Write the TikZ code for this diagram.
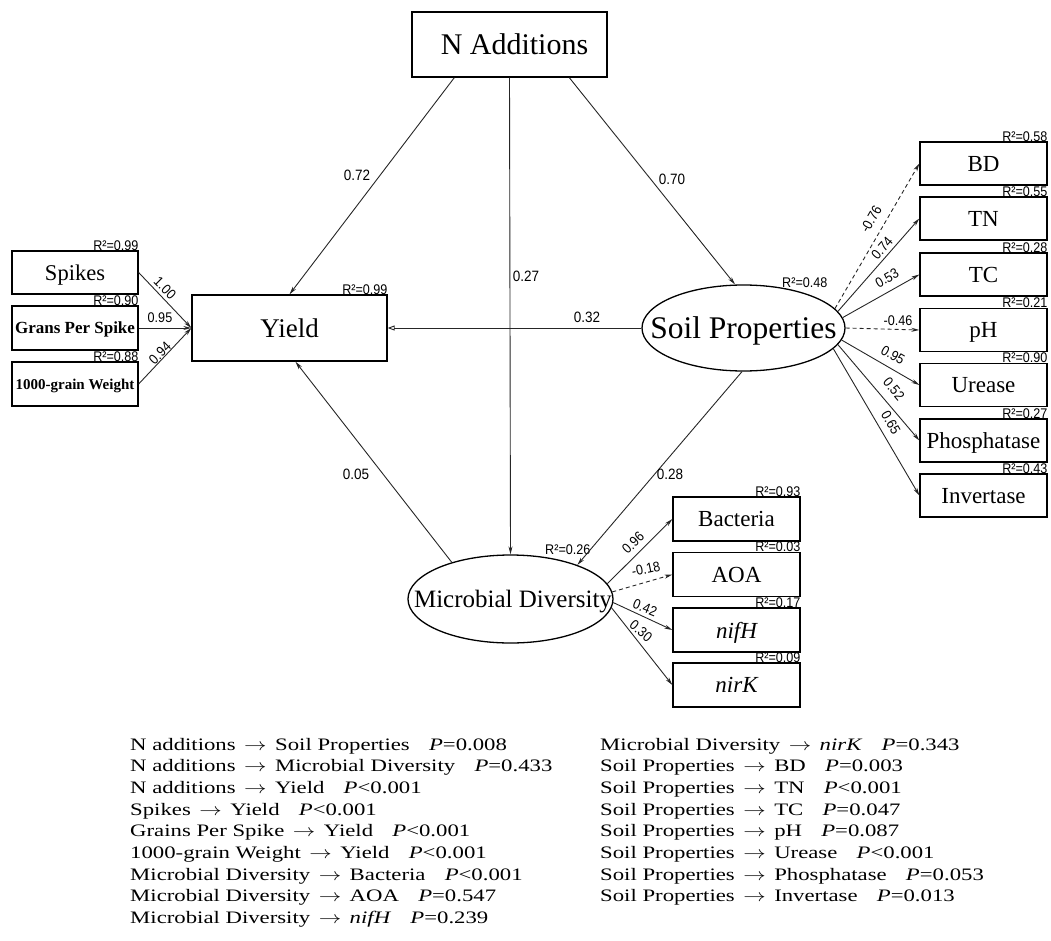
\documentclass[tikz,border=0pt]{standalone}
\usepackage{fontspec}
\setmainfont{Liberation Serif}
\newfontfamily\lblfont[FakeStretch=0.9]{Liberation Sans}
\newfontfamily\captfont[FakeStretch=1.3]{Liberation Serif}
\newcommand{\myarr}{\hspace{8.5pt}\scalebox{1.3}[1]{$\rightarrow$}\hspace{8.5pt}}
\newcommand{\pgap}{\hspace{1.1em}}
\usetikzlibrary{arrows.meta,shapes.geometric}
\begin{document}
\begin{tikzpicture}[x=1pt,y=-1pt,
  box/.style={draw, line width=1.3pt, inner sep=0pt, text depth=0pt},
  ell/.style={draw, ellipse, line width=1.3pt, inner sep=0pt, text depth=0pt},
  rbox/.style={box, minimum width=127pt, minimum height=43pt, font=\fontsize{23}{23}\selectfont},
  mbox/.style={box, minimum width=127pt, minimum height=44pt, font=\fontsize{23}{23}\selectfont},
  lbox/.style={box, minimum width=126pt, minimum height=44pt},
  rsq/.style={font=\lblfont\fontsize{14}{14}\selectfont, inner sep=0pt},
  plab/.style={font=\lblfont\fontsize{15}{15}\selectfont, inner sep=0pt},
  slab/.style={font=\lblfont\fontsize{14}{14}\selectfont, inner sep=0pt},
  conn/.style={line width=0.9pt, black!85, -{Stealth[length=8pt,width=4pt]}},
  dconn/.style={conn, dash pattern=on 4pt off 3pt},
  captext/.style={font=\captfont\fontsize{17.5}{17.5}\selectfont, anchor=base west, inner sep=0pt}
]
\useasboundingbox (0,0) rectangle (1051,941);

% main nodes
\node[box, minimum width=195pt, minimum height=65pt, font=\fontsize{30}{30}\selectfont] (nadd) at (509.5,44.5) {\hspace*{10pt}N Additions};
\node[box, minimum width=195pt, minimum height=66pt, font=\fontsize{27}{27}\selectfont] (yield) at (289.5,328) {Yield};
\node[lbox, minimum height=43pt, font=\fontsize{22.5}{22.5}\selectfont] (spikes) at (75,272.5) {Spikes};
\node[lbox, font=\bfseries\fontsize{17}{17}\selectfont] (grans) at (75,328) {Grans Per Spike};
\node[lbox, font=\bfseries\fontsize{15}{15}\selectfont] (tgw) at (75,384) {1000-grain Weight};
\node[ell, minimum width=203pt, minimum height=86pt, font=\fontsize{31.5}{31.5}\selectfont] (soil) at (743.5,328) {\makebox[0pt][c]{Soil Properties}};
\node[ell, minimum width=205pt, minimum height=88pt, font=\fontsize{25}{25}\selectfont] (micro) at (510.5,599) {\makebox[0pt][c]{\hspace*{5pt}Microbial Diversity}};

% soil indicators
\node[rbox] (bd) at (983.5,163.5) {BD};
\node[rbox] (tn) at (983.5,218.5) {TN};
\node[rbox] (tc) at (983.5,274.5) {TC};
\node[rbox] (ph) at (983.5,330) {pH};
\node[rbox] (ure) at (983.5,385) {Urease};
\node[rbox] (pho) at (983.5,440.5) {Phosphatase};
\node[rbox] (inv) at (983.5,495.5) {Invertase};

% microbial indicators
\node[mbox] (bac) at (736.5,519) {Bacteria};
\node[mbox] (aoa) at (736.5,574.5) {AOA};
\node[mbox] (nifh) at (736.5,630) {\itshape nifH};
\node[mbox] (nirk) at (736.5,685) {\itshape nirK};

% R2 labels
\node[rsq, anchor=base east] (r2y) at (yield.north east) {R²=0.99};
\node[rsq, anchor=base east] (r2s) at (spikes.north east) {R²=0.99};
\node[rsq, anchor=base east] (r2g) at (grans.north east) {R²=0.90};
\node[rsq, anchor=base east] (r2t) at (tgw.north east) {R²=0.88};
\node[rsq, anchor=base west] (r2soil) at (782,287) {R²=0.48};
\node[rsq, anchor=base west] (r2mic) at (545,554) {R²=0.26};
\node[rsq, anchor=base east] (r2bd) at (bd.north east) {R²=0.58};
\node[rsq, anchor=base east] (r2tn) at (tn.north east) {R²=0.55};
\node[rsq, anchor=base east] (r2tc) at (tc.north east) {R²=0.28};
\node[rsq, anchor=base east] (r2ph) at (ph.north east) {R²=0.21};
\node[rsq, anchor=base east] (r2ure) at (ure.north east) {R²=0.90};
\node[rsq, anchor=base east] (r2pho) at (pho.north east) {R²=0.27};
\node[rsq, anchor=base east] (r2inv) at (inv.north east) {R²=0.43};
\node[rsq, anchor=base east] (r2bac) at (bac.north east) {R²=0.93};
\node[rsq, anchor=base east] (r2aoa) at (aoa.north east) {R²=0.03};
\node[rsq, anchor=base east] (r2nifh) at (nifh.north east) {R²=0.17};
\node[rsq, anchor=base east] (r2nirk) at (nirk.north east) {R²=0.09};

% structural paths
\draw[conn] (nadd.211) -- (yield.north);
\draw[conn] (nadd.south) -- (micro.north);
\draw[conn] (nadd.-29.5) -- (soil.101);
\draw[line width=0.9pt, black!85, -{Triangle[open,length=7pt,width=5pt]}] (soil.west) -- (yield.east);
\draw[conn] (micro.148) -- (yield.280);
\draw[conn] (soil.-92) -- (micro.27);

\draw[conn] (spikes.east) -- (yield.west);
\draw[conn] (grans.east) -- (yield.west);
\draw[conn] (tgw.east) -- (yield.west);

\draw[dconn] (soil.12) -- (bd.west);
\draw[conn] (soil.10) -- (tn.west);
\draw[conn] (soil.6) -- (tc.west);
\draw[dconn] (soil.east) -- (ph.west);
\draw[conn] (soil.-7) -- (ure.west);
\draw[conn] (soil.-10) -- (pho.west);
\draw[conn] (soil.-13) -- (inv.west);

\draw[conn] (micro.9) -- (bac.west);
\draw[dconn] (micro.4) -- (aoa.west);
\draw[conn] (micro.-2) -- (nifh.west);
\draw[conn] (micro.-5) -- (nirk.west);

% path coefficients
\node[plab] (c1) at (357,175) {0.72};
\node[plab] (c2) at (526,276) {0.27};
\node[plab] (c3) at (672,179) {0.70};
\node[plab] (c4) at (587,317) {0.32};
\node[plab] (c5) at (356,474) {0.05};
\node[plab] (c6) at (670,474) {0.28};

\node[slab, rotate=-45] (c7) at (165,288) {1.00};
\node[slab] (c8) at (160,318) {0.95};
\node[slab, rotate=45] (c9) at (160,353) {0.94};

\node[slab, rotate=60] (c10) at (871,219) {-0.76};
\node[slab, rotate=49] (c11) at (882,248) {0.74};
\node[slab, rotate=30] (c12) at (887,278) {0.53};
\node[slab] (c13) at (898,321) {-0.46};
\node[slab, rotate=-30] (c14) at (893,355) {0.95};
\node[slab, rotate=-50] (c15) at (894,389) {0.52};
\node[slab, rotate=-60] (c16) at (891,423) {0.65};

\node[slab, rotate=44] (c17) at (633,543) {0.96};
\node[slab, rotate=12] (c18) at (646,569) {-0.18};
\node[slab, rotate=-22] (c19) at (645,608) {0.42};
\node[slab, rotate=-40] (c20) at (641,631) {0.30};

% significance list
\node[captext] (l1) at (130,750) {N additions\myarr Soil Properties\pgap\textit{P}=0.008};
\node[captext] (l2) at (130,771.7) {N additions\myarr Microbial Diversity\pgap\textit{P}=0.433};
\node[captext] (l3) at (130,793.4) {N additions\myarr Yield\pgap\textit{P}<0.001};
\node[captext] (l4) at (130,815.1) {Spikes\myarr Yield\pgap\textit{P}<0.001};
\node[captext] (l5) at (130,836.8) {Grains Per Spike\myarr Yield\pgap\textit{P}<0.001};
\node[captext] (l6) at (130,858.5) {1000-grain Weight\myarr Yield\pgap\textit{P}<0.001};
\node[captext] (l7) at (130,880.2) {Microbial Diversity\myarr Bacteria\pgap\textit{P}<0.001};
\node[captext] (l8) at (130,901.9) {Microbial Diversity\myarr AOA\pgap\textit{P}=0.547};
\node[captext] (l9) at (130,923.6) {Microbial Diversity\myarr\textit{nifH}\pgap\textit{P}=0.239};

\node[captext] (r1) at (600,750) {Microbial Diversity\myarr\textit{nirK}\pgap\textit{P}=0.343};
\node[captext] (r2) at (600,771.7) {Soil Properties\myarr BD\pgap\textit{P}=0.003};
\node[captext] (r3) at (600,793.4) {Soil Properties\myarr TN\pgap\textit{P}<0.001};
\node[captext] (r4) at (600,815.1) {Soil Properties\myarr TC\pgap\textit{P}=0.047};
\node[captext] (r5) at (600,836.8) {Soil Properties\myarr pH\pgap\textit{P}=0.087};
\node[captext] (r6) at (600,858.5) {Soil Properties\myarr Urease\pgap\textit{P}<0.001};
\node[captext] (r7) at (600,880.2) {Soil Properties\myarr Phosphatase\pgap\textit{P}=0.053};
\node[captext] (r8) at (600,901.9) {Soil Properties\myarr Invertase\pgap\textit{P}=0.013};
\end{tikzpicture}
\end{document}
